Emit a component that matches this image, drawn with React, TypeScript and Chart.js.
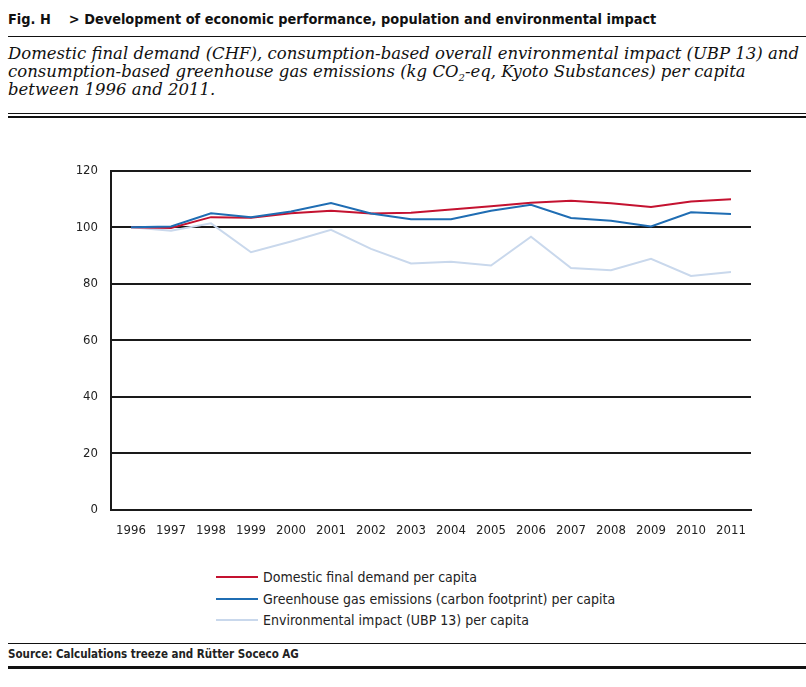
import React, { useEffect, useRef } from "react";
import { Chart, registerables } from "chart.js";

Chart.register(...registerables);

const years = ["1996", "1997", "1998", "1999", "2000", "2001", "2002", "2003", "2004", "2005", "2006", "2007", "2008", "2009", "2010", "2011"];
const domesticDemand = [100, 99.8, 103.6, 103.4, 105, 105.9, 104.9, 105.2, 106.3, 107.5, 108.7, 109.4, 108.5, 107.2, 109.1, 109.9];
const ghgEmissions = [100, 100.3, 105, 103.6, 105.6, 108.6, 104.9, 102.9, 102.9, 105.9, 108, 103.3, 102.3, 100.3, 105.3, 104.7];
const envImpact = [100, 98.8, 101.4, 91.2, 95, 99.1, 92.4, 87.2, 87.8, 86.5, 96.7, 85.6, 84.8, 88.9, 82.8, 84.2];
const yMin = 0;
const yMax = 120;
const yStep = 20;

const seriesNames = [
  "Domestic final demand per capita",
  "Greenhouse gas emissions (carbon footprint) per capita",
  "Environmental impact (UBP 13) per capita",
];
const seriesColors = ["#c41230", "#1f6db3", "#c9d8ec"];

const NARROW = "'Liberation Sans Narrow', 'DejaVu Sans Condensed', 'Arial Narrow', sans-serif";
const SERIF = "'DejaVu Serif', 'Liberation Serif', serif";

export default function App() {
  const ref = useRef<HTMLCanvasElement | null>(null);

  useEffect(() => {
    if (!ref.current) return;
    const chart = new Chart(ref.current, {
      type: "line",
      data: {
        labels: years,
        datasets: [
          { label: seriesNames[1], data: ghgEmissions, borderColor: seriesColors[1], borderWidth: 2, pointRadius: 0, tension: 0, fill: false },
          { label: seriesNames[0], data: domesticDemand, borderColor: seriesColors[0], borderWidth: 2, pointRadius: 0, tension: 0, fill: false },
          { label: seriesNames[2], data: envImpact, borderColor: seriesColors[2], borderWidth: 2, pointRadius: 0, tension: 0, fill: false },
        ],
      },
      options: {
        responsive: false,
        animation: false,
        devicePixelRatio: 1,
        layout: { padding: { top: 17, right: 29, left: 0, bottom: 0 } },
        plugins: { legend: { display: false }, tooltip: { enabled: false } },
        scales: {
          x: {
            offset: true,
            grid: { display: false, drawTicks: false },
            border: { display: true, color: "#1a1a1a", width: 2 },
            ticks: { color: "#222", font: { family: NARROW, size: 13 }, padding: 13, maxRotation: 0, autoSkip: false },
            afterFit: (s: any) => { s.height = 35; },
          },
          y: {
            min: yMin,
            max: yMax,
            grid: { color: "#1a1a1a", lineWidth: 2, drawTicks: false },
            border: { display: true, color: "#1a1a1a", width: 2 },
            ticks: { stepSize: yStep, color: "#222", font: { family: NARROW, size: 13 }, padding: 13 },
            afterFit: (s: any) => { s.width = 71; },
          },
        },
      },
    });
    return () => chart.destroy();
  }, []);

  const hline = (top: number, h: number) => (
    <div style={{ position: "absolute", left: 8, right: 0, top, height: h, background: "#111" }} />
  );

  return (
    <div style={{ position: "absolute", left: 0, top: 0, width: 806, height: 687, background: "#fff", overflow: "hidden" }}>
      <div style={{ position: "absolute", left: 8, top: 11, fontFamily: NARROW, fontWeight: "bold", fontSize: 14.4, color: "#111", whiteSpace: "nowrap" }}>
        Fig. H&nbsp;&nbsp;&nbsp;&nbsp;&gt; Development of economic performance, population and environmental impact
      </div>
      {hline(36, 1)}
      <div style={{ position: "absolute", left: 8, top: 45, fontFamily: SERIF, fontStyle: "italic", fontSize: 16.5, lineHeight: "18px", color: "#111", whiteSpace: "nowrap" }}>
        <div>Domestic final demand (CHF), consumption-based overall environmental impact (UBP 13) and</div>
        <div>consumption-based greenhouse gas emissions (kg CO<sub style={{ fontSize: 10, lineHeight: 0 }}>2</sub>-eq, Kyoto Substances) per capita</div>
        <div>between 1996 and 2011.</div>
      </div>
      {hline(113, 1)}
      {hline(116, 2)}
      <canvas ref={ref} width={740} height={395} style={{ position: "absolute", left: 40, top: 150, width: 740, height: 395 }} />
      {seriesNames.map((name, i) => (
        <div key={name} style={{ position: "absolute", left: 216, top: 567 + i * 21.5, height: 20, display: "flex", alignItems: "center", whiteSpace: "nowrap" }}>
          <div style={{ width: 42, height: 2, background: seriesColors[i] }} />
          <div style={{ marginLeft: 5, fontFamily: NARROW, fontSize: 14, color: "#222" }}>{name}</div>
        </div>
      ))}
      {hline(643, 1)}
      <div style={{ position: "absolute", left: 8, top: 647, fontFamily: NARROW, fontWeight: "bold", fontSize: 11.5, color: "#222", whiteSpace: "nowrap" }}>
        Source: Calculations treeze and Rütter Soceco AG
      </div>
      {hline(666, 3)}
    </div>
  );
}
